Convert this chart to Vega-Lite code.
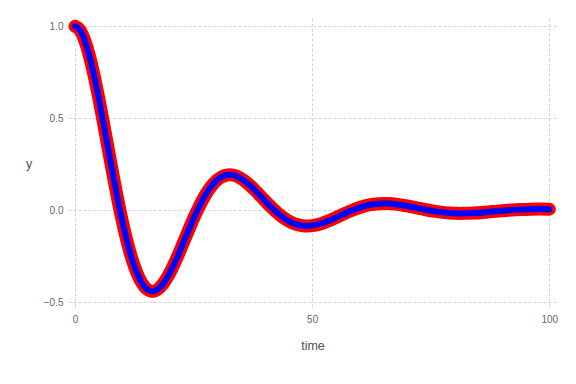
{
  "$schema": "https://vega.github.io/schema/vega-lite/v6.json",
  "autosize": "none",
  "padding": {"left": 68, "top": 18, "right": 19, "bottom": 75},
  "width": 489,
  "height": 291,
  "background": "white",
  "config": {
    "view": {"stroke": null},
    "axis": {
      "grid": true,
      "gridColor": "#D0D0E0",
      "gridDash": [3, 2],
      "gridWidth": 1,
      "domain": false,
      "ticks": false,
      "labelFont": "Liberation Sans",
      "labelFontSize": 10,
      "labelColor": "#6c606b",
      "labelPadding": 5,
      "titleFont": "Liberation Sans",
      "titleFontSize": 12.5,
      "titleFontWeight": "normal",
      "titleColor": "#564a55"
    }
  },
  "data": {
    "values": [
      {"time": 0, "y": 1.0},
      {"time": 1, "y": 0.9809},
      {"time": 2, "y": 0.9266},
      {"time": 3, "y": 0.8428},
      {"time": 4, "y": 0.7352},
      {"time": 5, "y": 0.6104},
      {"time": 6, "y": 0.4745},
      {"time": 7, "y": 0.3339},
      {"time": 8, "y": 0.1941},
      {"time": 9, "y": 0.0605},
      {"time": 10, "y": -0.0626},
      {"time": 11, "y": -0.1716},
      {"time": 12, "y": -0.2637},
      {"time": 13, "y": -0.3369},
      {"time": 14, "y": -0.3906},
      {"time": 15, "y": -0.4243},
      {"time": 16, "y": -0.4389},
      {"time": 17, "y": -0.4356},
      {"time": 18, "y": -0.4161},
      {"time": 19, "y": -0.383},
      {"time": 20, "y": -0.3386},
      {"time": 21, "y": -0.2857},
      {"time": 22, "y": -0.2271},
      {"time": 23, "y": -0.1656},
      {"time": 24, "y": -0.1038},
      {"time": 25, "y": -0.044},
      {"time": 26, "y": 0.0117},
      {"time": 27, "y": 0.0617},
      {"time": 28, "y": 0.1045},
      {"time": 29, "y": 0.1393},
      {"time": 30, "y": 0.1655},
      {"time": 31, "y": 0.183},
      {"time": 32, "y": 0.192},
      {"time": 33, "y": 0.1928},
      {"time": 34, "y": 0.1864},
      {"time": 35, "y": 0.1734},
      {"time": 36, "y": 0.1553},
      {"time": 37, "y": 0.133},
      {"time": 38, "y": 0.1079},
      {"time": 39, "y": 0.0811},
      {"time": 40, "y": 0.0538},
      {"time": 41, "y": 0.0272},
      {"time": 42, "y": 0.002},
      {"time": 43, "y": -0.0208},
      {"time": 44, "y": -0.0406},
      {"time": 45, "y": -0.057},
      {"time": 46, "y": -0.0697},
      {"time": 47, "y": -0.0785},
      {"time": 48, "y": -0.0836},
      {"time": 49, "y": -0.0851},
      {"time": 50, "y": -0.0831},
      {"time": 52, "y": -0.0709},
      {"time": 54, "y": -0.0509},
      {"time": 56, "y": -0.0273},
      {"time": 58, "y": -0.0041},
      {"time": 60, "y": 0.0154},
      {"time": 62, "y": 0.0292},
      {"time": 64, "y": 0.0362},
      {"time": 66, "y": 0.0369},
      {"time": 68, "y": 0.0323},
      {"time": 70, "y": 0.0239},
      {"time": 72, "y": 0.0136},
      {"time": 74, "y": 0.0033},
      {"time": 76, "y": -0.0056},
      {"time": 78, "y": -0.0121},
      {"time": 80, "y": -0.0156},
      {"time": 82, "y": -0.0163},
      {"time": 84, "y": -0.0146},
      {"time": 86, "y": -0.0111},
      {"time": 88, "y": -0.0067},
      {"time": 90, "y": -0.0021},
      {"time": 92, "y": 0.0019},
      {"time": 94, "y": 0.005},
      {"time": 96, "y": 0.0067},
      {"time": 98, "y": 0.0073},
      {"time": 100, "y": 0.0066}
    ]
  },
  "encoding": {
    "x": {
      "field": "time",
      "type": "quantitative",
      "scale": {"domain": [-1.48, 101.62], "nice": false, "zero": false},
      "axis": {"values": [0, 50, 100], "title": "time", "titleY": 40, "titleBaseline": "alphabetic"}
    },
    "y": {
      "field": "y",
      "type": "quantitative",
      "scale": {"domain": [-0.5358, 1.045], "nice": false, "zero": false},
      "axis": {
        "values": [-0.5, 0, 0.5, 1.0],
        "format": ".1f",
        "title": "y",
        "titleAngle": 0,
        "titleAlign": "center",
        "titleBaseline": "alphabetic",
        "titleX": -39.3,
        "titleY": 149.5
      }
    }
  },
  "layer": [
    {
      "mark": {"type": "line", "color": "#FF0000", "strokeWidth": 13, "strokeCap": "round", "strokeJoin": "round", "interpolate": "natural"}
    },
    {
      "mark": {"type": "line", "color": "#0000FF", "strokeWidth": 6, "strokeCap": "round", "strokeJoin": "round", "interpolate": "natural"}
    }
  ]
}
